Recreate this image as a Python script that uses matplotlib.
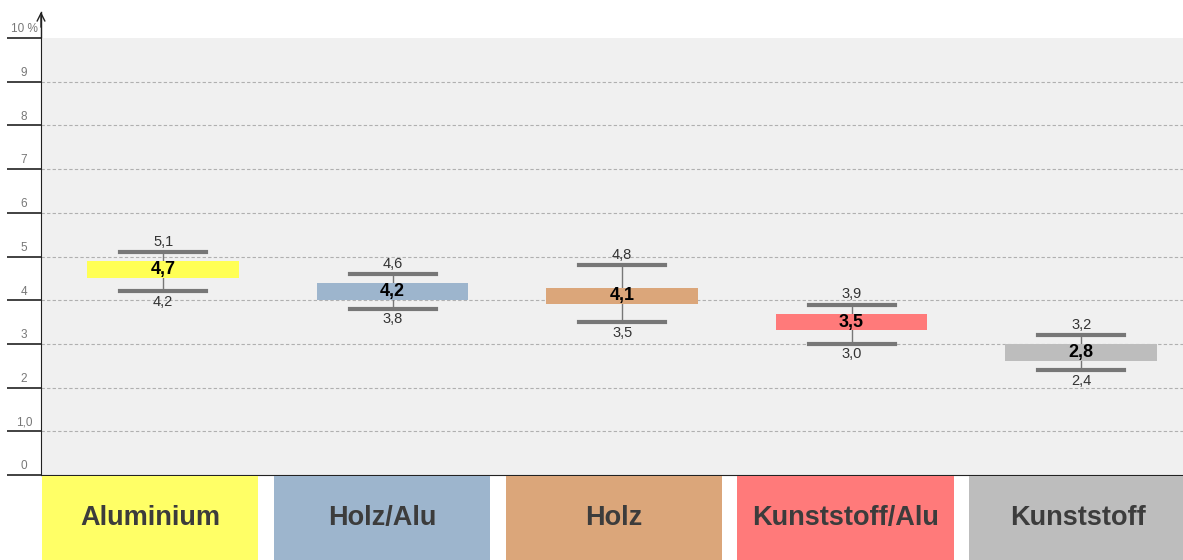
import numpy as np
import matplotlib.pyplot as plt
from matplotlib.transforms import blended_transform_factory

plt.rcParams['font.family'] = ['Liberation Sans', 'DejaVu Sans']

categories = ["Aluminium", "Holz/Alu", "Holz", "Kunststoff/Alu", "Kunststoff"]
median = [4.7, 4.2, 4.1, 3.5, 2.8]
high = [5.1, 4.6, 4.8, 3.9, 3.2]
low = [4.2, 3.8, 3.5, 3.0, 2.4]
yticks = [0, 1, 2, 3, 4, 5, 6, 7, 8, 9, 10]
ytick_labels = ["0", "1,0", "2", "3", "4", "5", "6", "7", "8", "9", "10 %"]
colors = ["#ffff55", "#9db5cd", "#dba67a", "#ff7a7a", "#bdbdbd"]
label_colors = ["#ffff66", "#9db5cd", "#dba67a", "#ff7a7a", "#bdbdbd"]

W, H = 1183, 560
fig = plt.figure(figsize=(W / 100, H / 100), dpi=100)

# main plot area
ax = fig.add_axes([41 / W, (H - 475) / H, 1142 / W, 437 / H])
ax.set_facecolor("#f0f0f0")
ax.set_xlim(-0.532, 4.444)
ax.set_ylim(0, 10)
for s in ["top", "right"]:
    ax.spines[s].set_visible(False)
ax.spines["left"].set_color("#222222")
ax.spines["bottom"].set_color("#222222")
ax.set_xticks([])
ax.set_yticks(yticks)
ax.set_yticklabels([])
ax.tick_params(axis="y", length=24.5, width=1.3, color="#333333")
for v in yticks[1:-1]:
    ax.axhline(v, color="#b0b0b0", lw=0.8, ls=(0, (3, 2)), zorder=0)

trans = blended_transform_factory(ax.transAxes, ax.transData)
for v, lab in zip(yticks, ytick_labels):
    ax.text(-17 / 1142, v + 0.06, lab, transform=trans, ha="center", va="bottom",
            fontsize=8.5, color="#777777", clip_on=False)

x = np.arange(len(categories))
box_h = 0.38
cap_w = 0.375
for i in x:
    ax.plot([i, i], [low[i], high[i]], color="#777777", lw=1, zorder=2)
    ax.bar(i, box_h, bottom=median[i] - box_h / 2, width=0.66, color=colors[i], zorder=3)
    ax.plot([i - cap_w / 2, i + cap_w / 2], [high[i], high[i]], color="#777777", lw=3, zorder=4)
    ax.plot([i - cap_w / 2, i + cap_w / 2], [low[i], low[i]], color="#777777", lw=3, zorder=4)
    ax.text(i, median[i], f"{median[i]:.1f}".replace(".", ","), ha="center", va="center",
            fontsize=13, fontweight="bold", color="black", zorder=5)
    ax.annotate(f"{high[i]:.1f}".replace(".", ","), (i, high[i]), xytext=(0, 2.5),
                textcoords="offset points", ha="center", va="bottom", fontsize=10.5, color="#333333")
    ax.annotate(f"{low[i]:.1f}".replace(".", ","), (i, low[i]), xytext=(0, -2.5),
                textcoords="offset points", ha="center", va="top", fontsize=10.5, color="#333333")

# y axis arrow
fig.add_artist(plt.Line2D([41 / W, 41 / W], [(H - 37) / H, (H - 12) / H], color="#222222", lw=1))
ax.annotate("", xy=(41 / W, (H - 9) / H), xytext=(41 / W, (H - 30) / H), xycoords="figure fraction",
            arrowprops=dict(arrowstyle="->", color="#222222", lw=1, mutation_scale=14))

# category label boxes
lax = fig.add_axes([41 / W, 0, 1142 / W, (H - 476) / H])
lax.set_xlim(-0.47, 4.453)
lax.set_ylim(0, 1)
lax.axis("off")
lax.bar(x, 1, width=0.935, color=label_colors)
for i, c in enumerate(categories):
    lax.text(i, 0.5, c, ha="center", va="center", fontsize=19.5, fontweight="bold", color="#3c3c3c")

fig.savefig("out.png", dpi=100)
